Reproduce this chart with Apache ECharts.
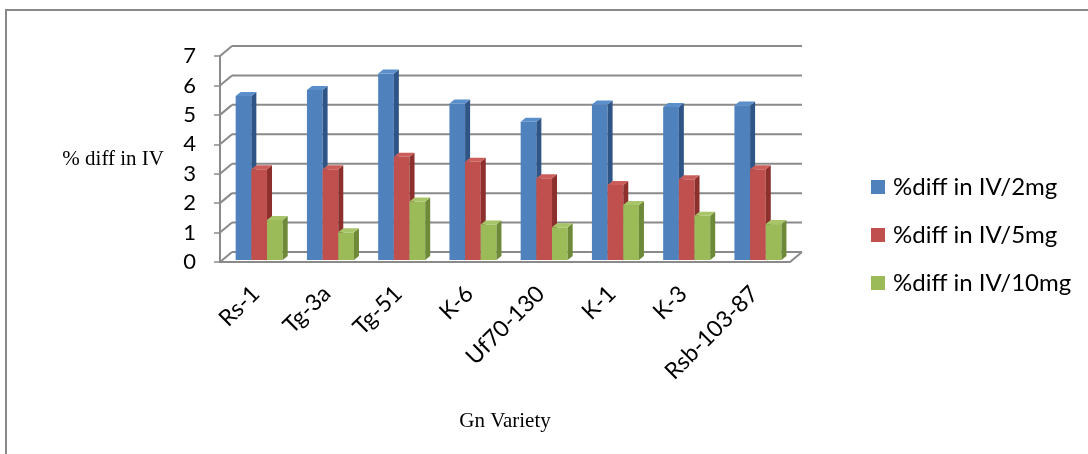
<!DOCTYPE html>
<html>
<head>
<meta charset="utf-8">
<script src="https://cdn.jsdelivr.net/npm/echarts@6/dist/echarts.min.js"></script>
<style>
html,body{margin:0;padding:0;background:#fff;}
#chart{width:1088px;height:454px;}
</style>
</head>
<body>
<div id="chart"></div>
<script>
var categories = ['Rs-1', 'Tg-3a', 'Tg-51', 'K-6', 'Uf70-130', 'K-1', 'K-3', 'Rsb-103-87'];
var seriesNames = ['%diff in IV/2mg', '%diff in IV/5mg', '%diff in IV/10mg'];
var iv2mg = [5.57, 5.78, 6.34, 5.32, 4.70, 5.28, 5.20, 5.25];
var iv5mg = [3.08, 3.08, 3.51, 3.34, 2.78, 2.55, 2.74, 3.08];
var iv10mg = [1.36, 0.94, 1.99, 1.21, 1.11, 1.87, 1.50, 1.22];
var yTicks = [0, 1, 2, 3, 4, 5, 6, 7];

var seriesValues = [iv2mg, iv5mg, iv10mg];
var fronts = ['#4F81BD', '#C0504D', '#9BBB59'];
var sides = ['#2F5587', '#8C2F2D', '#6E8A38'];
var tops = ['#5B8FCB', '#CB5E5B', '#A9C56A'];

var DX = 12, DY = 10;      // depth offset of the back wall
var BAR_DX = 5, BAR_DY = 4; // bar depth
var GRID = '#8A8A8A';

var chart = echarts.init(document.getElementById('chart'));

function barSeries(k) {
  return {
    name: seriesNames[k],
    type: 'custom',
    z: 5 + k,
    itemStyle: { color: fronts[k] },
    data: seriesValues[k].map(function (v, i) { return [i, v]; }),
    renderItem: function (params, api) {
      var ci = api.value(0), v = api.value(1);
      var band = api.size([1, 0])[0];
      var c = api.coord([ci, v]);
      var b = api.coord([ci, 0]);
      var bw = band * 0.22;
      var x = c[0] - band * 0.28 + k * bw;
      var yTop = c[1] - 2;
      var yBot = b[1] - 2;
      return {
        type: 'group',
        children: [
          { type: 'rect', shape: { x: x, y: yTop, width: bw, height: yBot - yTop },
            style: { fill: fronts[k] } },
          { type: 'polygon', shape: { points: [[x + bw, yTop], [x + bw + BAR_DX, yTop - BAR_DY], [x + bw + BAR_DX, yBot - BAR_DY], [x + bw, yBot]] },
            style: { fill: sides[k] } },
          { type: 'polygon', shape: { points: [[x, yTop], [x + BAR_DX, yTop - BAR_DY], [x + bw + BAR_DX, yTop - BAR_DY], [x + bw, yTop]] },
            style: { fill: tops[k] } }
        ]
      };
    }
  };
}

var frameSeries = {
  type: 'custom',
  silent: true,
  z: 1,
  legendHoverLink: false,
  data: yTicks.map(function (v) { return [0, v]; }),
  renderItem: function (params, api) {
    var cs = params.coordSys;
    var v = api.value(1);
    var y = api.coord([0, v])[1];
    var x0 = cs.x, x1 = cs.x + cs.width;
    var st = { stroke: GRID, lineWidth: 2 };
    var children = [
      { type: 'line', shape: { x1: x0, y1: y, x2: x0 + DX, y2: y - DY }, style: st },
      { type: 'line', shape: { x1: x0 + DX, y1: y - DY, x2: x1 + DX, y2: y - DY }, style: st }
    ];
    if (v === 0) {
      children.push({ type: 'line', shape: { x1: x1, y1: y, x2: x1 + DX, y2: y - DY }, style: st });
    }
    return { type: 'group', children: children };
  }
};

chart.setOption({
  animation: false,
  textStyle: { fontFamily: 'Lato' },
  graphic: [{
    type: 'rect', silent: true,
    shape: { x: 6, y: 10, width: 1100, height: 500 },
    style: { fill: 'none', stroke: '#898989', lineWidth: 2 }
  }],
  grid: { left: 220, right: 298, top: 56, bottom: 192 },
  legend: {
    orient: 'vertical',
    left: 871,
    top: 175,
    padding: 0,
    icon: 'rect',
    itemWidth: 14,
    itemHeight: 14,
    itemGap: 24,
    data: seriesNames,
    textStyle: { fontFamily: 'Lato', fontSize: 24, color: '#000', lineHeight: 24, padding: [0, 0, 0, 3] }
  },
  xAxis: {
    type: 'category',
    data: categories,
    name: 'Gn Variety',
    nameLocation: 'middle',
    nameGap: 149,
    nameTextStyle: { fontFamily: 'Liberation Serif', fontSize: 21, color: '#000' },
    axisLine: { lineStyle: { color: GRID, width: 2 } },
    axisTick: { length: 8, lineStyle: { color: GRID, width: 1.5 } },
    axisLabel: { rotate: 45, fontSize: 23, fontFamily: 'Lato', color: '#000', margin: 28 }
  },
  yAxis: {
    type: 'value',
    min: 0, max: 7, interval: 1,
    name: '% diff in IV',
    nameLocation: 'middle',
    nameRotate: 0,
    nameGap: 56,
    nameTextStyle: { fontFamily: 'Liberation Serif', fontSize: 21, color: '#000', align: 'right', verticalAlign: 'middle' },
    axisLine: { show: true, lineStyle: { color: GRID, width: 2 } },
    axisTick: { show: true, length: 6, lineStyle: { color: GRID, width: 1.5 } },
    splitLine: { show: false },
    axisLabel: { fontSize: 22, fontFamily: 'Lato', color: '#000', margin: 24 }
  },
  series: [frameSeries, barSeries(0), barSeries(1), barSeries(2)]
});
</script>
</body>
</html>
